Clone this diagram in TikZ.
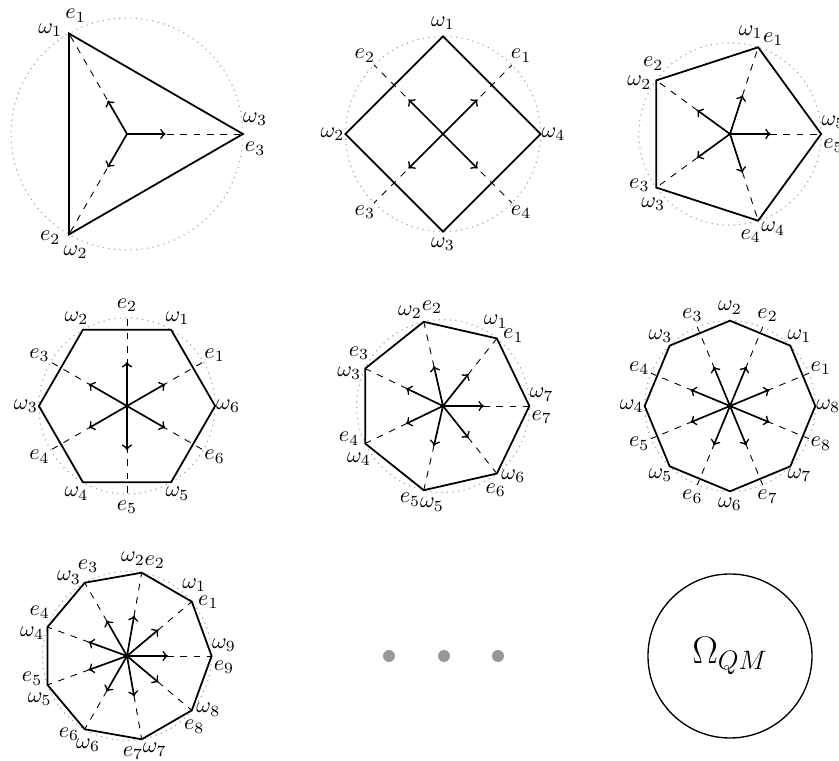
\documentclass[tikz,border=0pt]{standalone}
\usepackage{amsmath}
\definecolor{dotgray}{RGB}{150,150,156}
\tikzset{
  poly/.style={line width=0.8pt, line join=miter},
  effline/.style={dashed, line width=0.4pt},
  effarrow/.style={->, line width=0.75pt},
  circ/.style={gray!75, dotted, line width=0.5pt},
  lab/.style={inner sep=0pt, anchor=center},
  bigdot/.style={circle, fill=dotgray, inner sep=0pt, minimum size=5.4pt},
}
\newcommand{\gbit}[3]{%
\begin{scope}[shift={(#2,#3)}]
 \pgfmathsetmacro{\gr}{sqrt(1/cos(180/#1))}
 \pgfmathsetmacro{\gR}{82*\gr}
 \pgfmathsetmacro{\gRl}{\gR+13}
 \pgfmathtruncatemacro{\godd}{mod(#1,2)}
 \ifnum\godd=1
   \pgfmathsetmacro{\gL}{82*\gr/(1+\gr*\gr)}
   \def\gd{6.5}
 \else
   \pgfmathsetmacro{\gL}{41*\gr}
   \def\gd{0}
 \fi
 \coordinate (c#1) at (0,0);
 \draw[circ] (c#1) circle[radius=\gR];
 \foreach \i in {1,...,#1}{
   \pgfmathsetmacro{\va}{360*\i/#1}
   \ifnum\godd=1 \pgfmathsetmacro{\ea}{\va}\else\pgfmathsetmacro{\ea}{(2*\i-1)*180/#1}\fi
   \pgfmathsetmacro{\wa}{\va+\gd}
   \pgfmathsetmacro{\la}{\ea-\gd}
   \coordinate (v#1-\i) at (\va:\gR);
   \coordinate (d#1-\i) at (\ea:\gR);
   \coordinate (t#1-\i) at (\ea:\gL);
   \draw[effline] (c#1) -- (d#1-\i);
   \node[lab] (w#1-\i) at (\wa:\gRl) {$\omega_{\i}$};
   \node[lab] (e#1-\i) at (\la:\gRl) {$e_{\i}$};
 }
 \draw[poly] (v#1-1) \foreach \i in {2,...,#1}{ -- (v#1-\i)} -- cycle;
 \foreach \i in {1,...,#1}{
   \draw[effarrow] (c#1) -- (t#1-\i);
 }
\end{scope}}
\begin{document}
\begin{tikzpicture}[x=0.45pt,y=0.45pt]
\useasboundingbox (0,0) rectangle (839,761);
\gbit{3}{127}{627}
\gbit{4}{443}{627}
\gbit{5}{730}{627}
\gbit{6}{127}{355}
\gbit{7}{443}{355}
\gbit{8}{730}{355}
\gbit{9}{127}{105}
\node[bigdot] (dot1) at (389,105) {};
\node[bigdot] (dot2) at (444,105) {};
\node[bigdot] (dot3) at (498,105) {};
\node[draw, circle, line width=0.6pt, minimum size=73.8pt, inner sep=0pt] (omegaQM) at (730,105) {\LARGE$\Omega_{QM}$};
\end{tikzpicture}
\end{document}
